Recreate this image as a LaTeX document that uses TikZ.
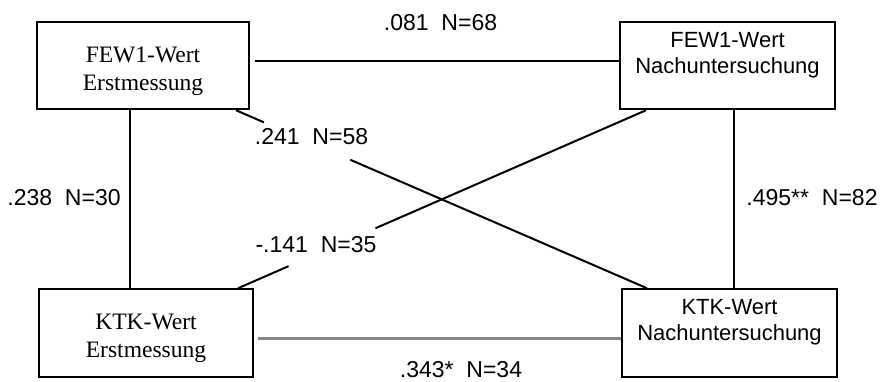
\documentclass[tikz,border=0pt]{standalone}
\usepackage{fontspec}
\setmainfont{Liberation Serif}
\setsansfont{Liberation Sans}
\usetikzlibrary{positioning}
\definecolor{cgray}{HTML}{858585}
\tikzset{
  every picture/.style={line width=0.04cm},
  box/.style={draw, minimum width=4.28cm, minimum height=1.75cm, inner sep=0pt},
  serif/.style={font=\fontsize{13.4pt}{15.9pt}\selectfont, align=center, inner sep=0pt},
  sans/.style={font=\sffamily\fontsize{12.5pt}{14.8pt}\selectfont, align=center, inner sep=0pt},
  lab/.style={font=\sffamily\fontsize{13.1pt}{15pt}\selectfont, inner sep=0pt},
}

\begin{document}
\begin{tikzpicture}[
  edge/.style={draw=black, line width=0.04cm},
  grey edge/.style={draw=cgray, line width=0.06cm}]
  \useasboundingbox (0,0) rectangle (17.64,7.62);
  % boxes
  \node[box, minimum width=4.24cm] (fw1) at (2.86,6.31) {};
  \node[box, minimum width=4.30cm] (fw2) at (14.55,6.31) {};
  \node[box] (ktk1) at (2.92,0.96) {};
  \node[box, minimum width=4.30cm] (ktk2) at (14.59,0.96) {};
  \node[serif, below=0.5cm of fw1.north] (fw1t) {FEW1-Wert\\Erstmessung};
  \node[sans, below=0.21cm of fw2.north] (fw2t) {FEW1-Wert\\Nachuntersuchung};
  \node[serif, below=0.5cm of ktk1.north] (ktk1t) {KTK-Wert\\Erstmessung};
  \node[sans, below=0.21cm of ktk2.north] (ktk2t) {KTK-Wert\\Nachuntersuchung};
  % straight links
  \draw[edge, shorten <=0.1cm] ([yshift=0.09cm]fw1.east) -- ([yshift=0.09cm]fw2.west);
  \draw[grey edge, shorten <=0.08cm] ([yshift=-0.12cm]ktk1.east) -- ([yshift=-0.12cm]ktk2.west);
  \draw[edge] ([xshift=-0.27cm]fw1.south) -- ([xshift=-0.27cm]fw1.south |- ktk1.north);
  \draw[edge] ([xshift=0.13cm]fw2.south) -- ([xshift=0.13cm]fw2.south |- ktk2.north);
  % crossing links, broken at the labels
  \path ([xshift=-0.28cm]fw1.south east) coordinate (a0)
    -- coordinate[pos=0.068] (a1) coordinate[pos=0.278] (a2)
    ([xshift=0.52cm]ktk2.north west) coordinate (a3);
  \draw[edge] (a0) -- (a1) (a2) -- (a3);
  \path ([xshift=-0.32cm]ktk1.north east) coordinate (b0)
    -- coordinate[pos=0.124] (b1) coordinate[pos=0.337] (b2)
    ([xshift=0.54cm]fw2.south west) coordinate (b3);
  \draw[edge] (b0) -- (b1) (b2) -- (b3);
  % correlations: name, x, y, text
  \foreach \n/\x/\y/\t in {r1/8.81/7.16/.081~~N=68, r2/1.28/3.66/.238~~N=30,
                           r3/16.24/3.66/.495**~~N=82, r4/6.23/4.89/.241~~N=58,
                           r5/6.32/2.72/-.141~~N=35, r6/9.22/0.22/.343*~~N=34} {
    \node[lab] (\n) at (\x,\y) {\t};
  }
\end{tikzpicture}
\end{document}
